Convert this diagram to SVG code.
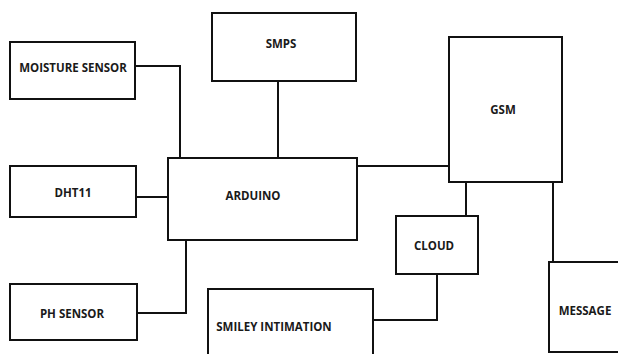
<svg xmlns="http://www.w3.org/2000/svg" width="618" height="354" viewBox="0 0 618 354">
<style>
.box{fill:#fff;stroke:#111;stroke-width:2}
.wire{fill:none;stroke:#111;stroke-width:2}
text{font-family:"Open Sans","Liberation Sans",sans-serif;font-weight:bold;font-size:11.5px;fill:#1a1a1a;text-anchor:middle;dominant-baseline:central}
</style>
<rect width="618" height="354" fill="#fff"/>
<g id="connectors">
<polyline class="wire" points="135,66 180,66 180,158"/>
<line class="wire" x1="278" y1="81" x2="278" y2="158"/>
<line class="wire" x1="136" y1="197" x2="168" y2="197"/>
<polyline class="wire" points="186,240 186,313 137,313"/>
<line class="wire" x1="357" y1="166" x2="449" y2="166"/>
<line class="wire" x1="466" y1="182" x2="466" y2="216"/>
<line class="wire" x1="553" y1="182" x2="553" y2="262"/>
<polyline class="wire" points="437,274 437,320 373,320"/>
</g>
<g id="moisture"><rect class="box" x="10" y="42" width="125" height="57"/><text x="73" y="67">MOISTURE SENSOR</text></g>
<g id="smps"><rect class="box" x="212" y="13" width="144" height="68"/><text x="281" y="43">SMPS</text></g>
<g id="dht11"><rect class="box" x="10" y="166" width="126" height="51"/><text x="73" y="192">DHT11</text></g>
<g id="arduino"><rect class="box" x="168" y="158" width="189" height="82"/><text x="253" y="195">ARDUINO</text></g>
<g id="ph"><rect class="box" x="10" y="284" width="127" height="56"/><text x="72" y="313">PH SENSOR</text></g>
<g id="smiley"><rect class="box" x="208" y="289" width="165" height="80"/><text x="274" y="326">SMILEY INTIMATION</text></g>
<g id="cloud"><rect class="box" x="396" y="216" width="82" height="58"/><text x="434" y="245">CLOUD</text></g>
<g id="gsm"><rect class="box" x="449" y="37" width="113" height="145"/><text x="503" y="109">GSM</text></g>
<g id="message"><rect class="box" x="549" y="262" width="70" height="90"/><text x="585" y="310">MESSAGE</text></g>
</svg>
